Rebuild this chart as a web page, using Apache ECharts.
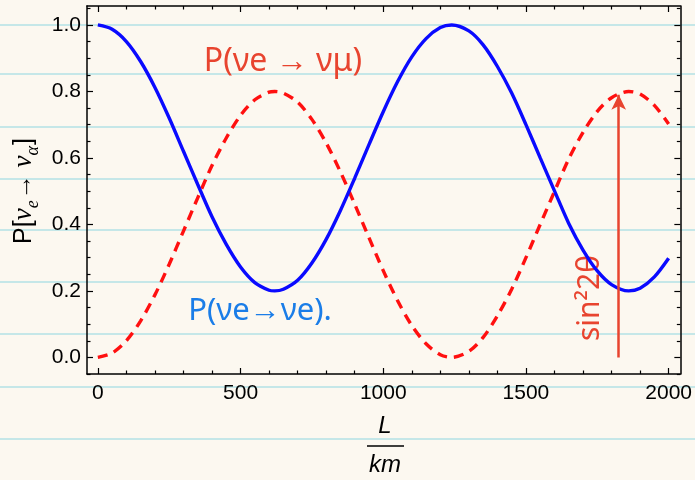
<!DOCTYPE html>
<html>
<head>
<meta charset="utf-8">
<script src="https://cdn.jsdelivr.net/npm/echarts@6/dist/echarts.min.js"></script>
<style>
  html, body { margin: 0; padding: 0; background: #fcf8f0; }
  #main { width: 695px; height: 480px; }
</style>
</head>
<body>
<div id="main"></div>
<script>
// L in km
var distances = [0, 50, 100, 150, 200, 250, 300, 350, 400, 450, 500, 550, 600, 620, 650, 700, 750, 800, 850, 900, 950,
    1000, 1050, 1100, 1150, 1200, 1240, 1300, 1350, 1400, 1450, 1500, 1550, 1600, 1650, 1700, 1750, 1800, 1860, 1900, 1950, 2000];
// P(ve -> ve), blue solid
var survival = [1.000, 0.987, 0.950, 0.890, 0.812, 0.720, 0.620, 0.520, 0.423, 0.340, 0.272, 0.225, 0.202, 0.200, 0.205, 0.232, 0.284,
    0.355, 0.442, 0.539, 0.640, 0.739, 0.829, 0.904, 0.959, 0.992, 1.000, 0.982, 0.940, 0.875, 0.795, 0.700, 0.600, 0.501,
    0.403, 0.323, 0.260, 0.219, 0.200, 0.208, 0.242, 0.298];
// P(ve -> vmu), red dashed
var appearance = [0.000, 0.013, 0.050, 0.110, 0.188, 0.280, 0.380, 0.480, 0.577, 0.660, 0.728, 0.775, 0.798, 0.800, 0.795, 0.768, 0.716,
    0.645, 0.558, 0.461, 0.360, 0.261, 0.171, 0.096, 0.041, 0.008, 0.000, 0.018, 0.060, 0.125, 0.205, 0.300, 0.400, 0.499,
    0.597, 0.677, 0.740, 0.781, 0.800, 0.792, 0.758, 0.702];

var xTickLabels = [0, 500, 1000, 1500, 2000];
var xMinorTicks = [100, 200, 300, 400, 600, 700, 800, 900, 1100, 1200, 1300, 1400, 1600, 1700, 1800, 1900];
var yTickLabels = [0, 0.2, 0.4, 0.6, 0.8, 1.0];
var yMinorTicks = [-0.05, 0.05, 0.1, 0.15, 0.25, 0.3, 0.35, 0.45, 0.5, 0.55, 0.65, 0.7, 0.75, 0.85, 0.9, 0.95, 1.05];
var arrowAt = 1825; // handwritten sin^2 2theta arrow

var xMin = -38, xMax = 2041, yMin = -0.05, yMax = 1.057;

var chart = echarts.init(document.getElementById('main'));

function pairs(ys) {
    return distances.map(function (d, i) { return [d, ys[i]]; });
}

function xAx(pos, ticks, len, labels, line) {
    return {
        type: 'value', position: pos, min: xMin, max: xMax,
        axisLine: { show: line, onZero: false, lineStyle: { color: '#000', width: 1.5 } },
        axisTick: { show: true, inside: true, length: len, customValues: ticks, lineStyle: { color: '#000', width: 1.2 } },
        axisLabel: labels ? {
            customValues: xTickLabels, color: '#000', fontSize: 21, fontFamily: 'Liberation Sans', margin: 9,
            formatter: function (v) { return String(v); }
        } : { show: false },
        splitLine: { show: false }
    };
}
function yAx(pos, ticks, len, labels, line) {
    return {
        type: 'value', position: pos, min: yMin, max: yMax,
        axisLine: { show: line, onZero: false, lineStyle: { color: '#000', width: 1.5 } },
        axisTick: { show: true, inside: true, length: len, customValues: ticks, lineStyle: { color: '#000', width: 1.2 } },
        axisLabel: labels ? {
            customValues: yTickLabels, color: '#000', fontSize: 21, fontFamily: 'Liberation Sans', margin: 6,
            formatter: function (v) { return v.toFixed(1); }
        } : { show: false },
        splitLine: { show: false }
    };
}

// notebook ruling
var ruled = [25, 74, 127, 179, 230, 282, 334, 387, 439];
var graphics = ruled.map(function (y) {
    return {
        type: 'line', silent: true, z: -10,
        shape: { x1: 0, y1: y, x2: 695, y2: y },
        style: { stroke: '#b3e2e6', lineWidth: 2, opacity: 0.75 }
    };
});
graphics = graphics.concat([
    // axis label, y
    {
        type: 'text', x: 22, y: 191, rotation: Math.PI / 2,
        style: {
            text: '{n|P[}{g|ν}{s|e}{n|→ }{g|ν}{s|α}{n|]}', align: 'center', verticalAlign: 'middle',
            rich: {
                n: { fontSize: 25, fontFamily: 'Liberation Sans', fill: '#000', lineHeight: 30, verticalAlign: 'bottom' },
                g: { fontSize: 27, fontFamily: 'Liberation Serif', fontStyle: 'italic', fill: '#000', lineHeight: 30, verticalAlign: 'bottom' },
                s: { fontSize: 18, fontFamily: 'Liberation Serif', fontStyle: 'italic', fill: '#000', lineHeight: 30, verticalAlign: 'bottom', padding: [0, 1, -5, 0] }
            }
        }
    },
    // axis label, x: L / km
    { type: 'text', x: 385, y: 426, style: { text: 'L', fontSize: 24, fontStyle: 'italic', fontFamily: 'Liberation Sans', fill: '#000', align: 'center', verticalAlign: 'middle' } },
    { type: 'line', shape: { x1: 367, y1: 446, x2: 404, y2: 446 }, style: { stroke: '#000', lineWidth: 1.5 } },
    { type: 'text', x: 385, y: 465, style: { text: 'km', fontSize: 24, fontStyle: 'italic', fontFamily: 'Liberation Sans', fill: '#000', align: 'center', verticalAlign: 'middle' } },
    // handwritten notes
    { type: 'text', x: 283, y: 62, style: { text: 'P(νe → νμ)', fontSize: 32, fontFamily: 'Noto Sans', fill: '#e8442f', align: 'center', verticalAlign: 'middle' } },
    { type: 'text', x: 260, y: 311, style: { text: 'P(νe→νe).', fontSize: 31, fontFamily: 'Noto Sans', fill: '#1a7de8', align: 'center', verticalAlign: 'middle' } },
    { type: 'text', x: 590, y: 298, rotation: Math.PI / 2, style: { text: 'sin²2θ', fontSize: 30, fontFamily: 'Noto Sans', fill: '#e8442f', align: 'center', verticalAlign: 'middle' } }
]);

var option = {
    backgroundColor: '#fcf8f0',
    animation: false,
    grid: { left: 87, right: 12, top: 6, bottom: 106, containLabel: false },
    xAxis: [
        xAx('bottom', xTickLabels, 6, true, true),
        xAx('bottom', xMinorTicks, 3.5, false, false),
        xAx('top', xTickLabels, 6, false, true),
        xAx('top', xMinorTicks, 3.5, false, false)
    ],
    yAxis: [
        yAx('left', yTickLabels, 6, true, true),
        yAx('left', yMinorTicks, 3.5, false, false),
        yAx('right', yTickLabels, 6, false, true),
        yAx('right', yMinorTicks, 3.5, false, false)
    ],
    graphic: graphics,
    series: [
        {
            name: 'P(νe→νe)', type: 'line', data: pairs(survival), smooth: 0.3, showSymbol: false,
            lineStyle: { color: '#0a0aff', width: 3.4 }, z: 3
        },
        {
            name: 'P(νe→νμ)', type: 'line', data: pairs(appearance), smooth: 0.3, showSymbol: false,
            lineStyle: { color: '#ff1010', width: 3.4, type: [10, 7] }, z: 2,
            markLine: {
                silent: true, symbol: ['none', 'arrow'], symbolSize: [11, 15],
                label: { show: false },
                lineStyle: { color: '#e8442f', width: 2.5, type: 'solid' },
                data: [[{ coord: [arrowAt, 0] }, { coord: [arrowAt, 0.79] }]]
            }
        }
    ]
};
chart.setOption(option);
</script>
</body>
</html>
